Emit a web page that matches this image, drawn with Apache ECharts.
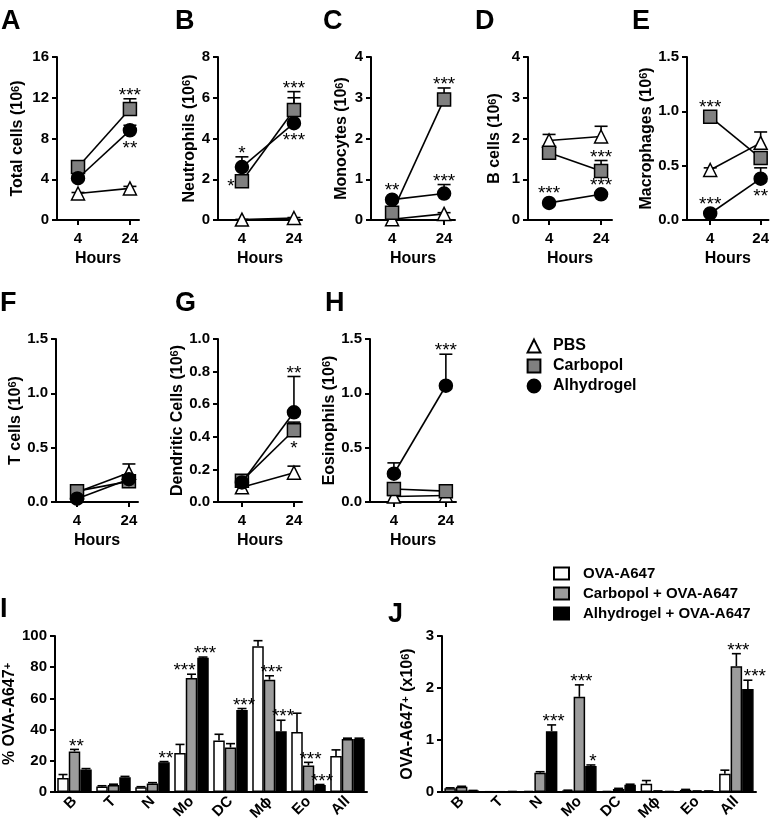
<!DOCTYPE html>
<html><head><meta charset="utf-8">
<script src="https://cdn.jsdelivr.net/npm/echarts@6/dist/echarts.min.js"></script>
<style>html,body{margin:0;padding:0;background:#fff}#c{width:772px;height:831px}</style>
</head><body><div id="c"></div>
<script>
const FONT = '"Liberation Sans", Arial, Helvetica, sans-serif';
const hours = [4, 24];
const lineGroups = ['PBS', 'Carbopol', 'Alhydrogel'];

// A Total cells
const totalPBS = [2.6, 3.1], totalPBSErr = [0.1, 0.2];
const totalCarb = [5.2, 10.9], totalCarbErr = [0.3, 1.0];
const totalAlhy = [4.1, 8.8], totalAlhyErr = [0.2, 0.5];
const totalStars = [{h: 24, g: 1, t: '***', p: 'err'}, {h: 24, g: 2, t: '**', p: 'below'}];
// B Neutrophils
const neutPBS = [0.02, 0.1], neutPBSErr = [0.01, 0.02];
const neutCarb = [1.9, 5.4], neutCarbErr = [0.2, 0.9];
const neutAlhy = [2.6, 4.75], neutAlhyErr = [0.5, 1.25];
const neutStars = [{h: 4, g: 2, t: '*', p: 'err'}, {h: 4, g: 1, t: '*', p: 'left'},
                   {h: 24, g: 1, t: '***', p: 'err'}, {h: 24, g: 2, t: '***', p: 'below'}];
// C Monocytes
const monoPBS = [0.02, 0.15], monoPBSErr = [0.01, 0.03];
const monoCarb = [0.18, 2.96], monoCarbErr = [0.05, 0.28];
const monoAlhy = [0.5, 0.65], monoAlhyErr = [0.03, 0.22];
const monoStars = [{h: 4, g: 2, t: '**', p: 'mark'}, {h: 24, g: 1, t: '***', p: 'err'}, {h: 24, g: 2, t: '***', p: 'err'}];
// D B cells
const bcellPBS = [1.95, 2.05], bcellPBSErr = [0.15, 0.25];
const bcellCarb = [1.65, 1.2], bcellCarbErr = [0.1, 0.26];
const bcellAlhy = [0.42, 0.63], bcellAlhyErr = [0.03, 0.03];
const bcellStars = [{h: 24, g: 1, t: '***', p: 'err'}, {h: 4, g: 2, t: '***', p: 'mark'}, {h: 24, g: 2, t: '***', p: 'mark'}];
// E Macrophages
const macPBS = [0.46, 0.71], macPBSErr = [0.02, 0.1];
const macCarb = [0.95, 0.57], macCarbErr = [0.03, 0.05];
const macAlhy = [0.06, 0.38], macAlhyErr = [0.01, 0.1];
const macStars = [{h: 4, g: 1, t: '***', p: 'mark'}, {h: 4, g: 2, t: '***', p: 'mark'}, {h: 24, g: 2, t: '**', p: 'below'}];
// F T cells
const tcellPBS = [0.09, 0.27], tcellPBSErr = [0.01, 0.08];
const tcellCarb = [0.1, 0.19], tcellCarbErr = [0.01, 0.03];
const tcellAlhy = [0.03, 0.21], tcellAlhyErr = [0.01, 0.03];
const tcellStars = [];
// G Dendritic cells
const dcPBS = [0.09, 0.18], dcPBSErr = [0.01, 0.04];
const dcCarb = [0.13, 0.44], dcCarbErr = [0.01, 0.05];
const dcAlhy = [0.12, 0.55], dcAlhyErr = [0.01, 0.22];
const dcStars = [{h: 24, g: 2, t: '**', p: 'err'}, {h: 24, g: 1, t: '*', p: 'below'}];
// H Eosinophils
const eosPBS = [0.05, 0.06], eosPBSErr = [0.01, 0.01];
const eosCarb = [0.12, 0.1], eosCarbErr = [0.01, 0.01];
const eosAlhy = [0.26, 1.07], eosAlhyErr = [0.1, 0.29];
const eosStars = [{h: 24, g: 2, t: '***', p: 'err'}];

// Bar panels
const cellTypes = ['B', 'T', 'N', 'Mo', 'DC', 'M\u03D5', 'Eo', 'All'];
const barGroups = ['OVA-A647', 'Carbopol + OVA-A647', 'Alhydrogel + OVA-A647'];
// I  % OVA-A647+
const pctOva = [9, 3.5, 3, 25, 33, 93.5, 38.5, 23], pctOvaErr = [2.2, 0.5, 0.4, 5.5, 4, 3.5, 12, 4];
const pctCarb = [26, 4.5, 5.5, 73, 28.5, 72, 17, 34], pctCarbErr = [1.3, 0.5, 0.5, 2.5, 2.5, 2.5, 2, 0.5];
const pctAlhy = [14.5, 9.5, 19, 86, 52.5, 39, 4.5, 34], pctAlhyErr = [0.5, 0.5, 0.5, 0.5, 1, 7, 0.3, 0.5];
const pctStars = [{c: 0, b: 1, t: '**'}, {c: 2, b: 2, t: '**'}, {c: 3, b: 1, t: '***'}, {c: 3, b: 2, t: '***'},
                  {c: 4, b: 2, t: '***'}, {c: 5, b: 1, t: '***'}, {c: 5, b: 2, t: '***'}, {c: 6, b: 1, t: '***'}, {c: 6, b: 2, t: '***'}];
// J  OVA-A647+ (x10^6)
const numOva = [0.07, 0.005, 0.01, 0.03, 0.01, 0.16, 0.04, 0.35], numOvaErr = [0.01, 0, 0, 0.005, 0, 0.06, 0.01, 0.07];
const numCarb = [0.1, 0.005, 0.37, 1.83, 0.06, 0.02, 0.02, 2.42], numCarbErr = [0.01, 0, 0.02, 0.23, 0.01, 0, 0, 0.24];
const numAlhy = [0.03, 0.01, 1.17, 0.5, 0.14, 0.01, 0.02, 1.98], numAlhyErr = [0, 0, 0.12, 0.02, 0.01, 0, 0, 0.17];
const numStars = [{c: 2, b: 2, t: '***'}, {c: 3, b: 1, t: '***'}, {c: 3, b: 2, t: '*'}, {c: 7, b: 1, t: '***'}, {c: 7, b: 2, t: '***'}];

// ---------- layout / style ----------
const lineStyleDefs = [
  {symbol: 'triangle', size: 13, fill: '#ffffff'},
  {symbol: 'rect', size: 13, fill: '#808080'},
  {symbol: 'circle', size: 13, fill: '#000000'}
];
const barFills = ['#ffffff', '#9c9c9c', '#000000'];
// small horizontal nudges (px) for star labels that avoid neighbouring bars
const starNudge = {'I:3:1': -9, 'J:7:2': 5};

const linePanels = [
  {L: 'A', left: 57, top: 57, width: 82, xr: [-4.1, 27.5], max: 16, iv: 4, dec: 0, name: 'Total cells (10{s|6})', gap: 31,
   d: [[totalPBS, totalPBSErr], [totalCarb, totalCarbErr], [totalAlhy, totalAlhyErr]], stars: totalStars},
  {L: 'B', left: 218, top: 57, width: 84, xr: [-5.2, 27.1], max: 8, iv: 2, dec: 0, name: 'Neutrophils (10{s|6})', gap: 19,
   d: [[neutPBS, neutPBSErr], [neutCarb, neutCarbErr], [neutAlhy, neutAlhyErr]], stars: neutStars},
  {L: 'C', left: 371, top: 57, width: 84, xr: [-4.1, 28.2], max: 4, iv: 1, dec: 0, name: 'Monocytes (10{s|6})', gap: 21,
   d: [[monoPBS, monoPBSErr], [monoCarb, monoCarbErr], [monoAlhy, monoAlhyErr]], stars: monoStars},
  {L: 'D', left: 528, top: 57, width: 84, xr: [-4.1, 28.2], max: 4, iv: 1, dec: 0, name: 'B cells (10{s|6})', gap: 25,
   d: [[bcellPBS, bcellPBSErr], [bcellCarb, bcellCarbErr], [bcellAlhy, bcellAlhyErr]], stars: bcellStars},
  {L: 'E', left: 687, top: 57, width: 84, xr: [-5.2, 27.1], max: 1.5, iv: 0.5, dec: 1, name: 'Macrophages (10{s|6})', gap: 29,
   d: [[macPBS, macPBSErr], [macCarb, macCarbErr], [macAlhy, macAlhyErr]], stars: macStars},
  {L: 'F', left: 56, top: 339, width: 82, xr: [-4.1, 27.5], max: 1.5, iv: 0.5, dec: 1, name: 'T cells (10{s|6})', gap: 27,
   d: [[tcellPBS, tcellPBSErr], [tcellCarb, tcellCarbErr], [tcellAlhy, tcellAlhyErr]], stars: tcellStars},
  {L: 'G', left: 218, top: 339, width: 84, xr: [-5.2, 27.1], max: 1.0, iv: 0.2, dec: 1, name: 'Dendritic Cells (10{s|6})', gap: 27,
   d: [[dcPBS, dcPBSErr], [dcCarb, dcCarbErr], [dcAlhy, dcAlhyErr]], stars: dcStars},
  {L: 'H', left: 370, top: 339, width: 86, xr: [-5.2, 27.9], max: 1.5, iv: 0.5, dec: 1, name: 'Eosinophils (10{s|6})', gap: 27,
   d: [[eosPBS, eosPBSErr], [eosCarb, eosCarbErr], [eosAlhy, eosAlhyErr]], stars: eosStars}
];
const barPanels = [
  {L: 'I', left: 55, top: 636, width: 312, height: 156, max: 100, iv: 20, name: '% OVA-A647{s|+}', gap: 34,
   d: [[pctOva, pctOvaErr], [pctCarb, pctCarbErr], [pctAlhy, pctAlhyErr]], stars: pctStars},
  {L: 'J', left: 442, top: 636, width: 314, height: 156, max: 3, iv: 1, name: 'OVA-A647{s|+} (x10{s|6})', gap: 26,
   d: [[numOva, numOvaErr], [numCarb, numCarbErr], [numAlhy, numAlhyErr]], stars: numStars}
];
const letterPos = {A: [1, 8], B: [175, 8], C: [323, 8], D: [475, 8], E: [632, 8], F: [0, 290], G: [175, 290], H: [325, 290], I: [0, 596], J: [388, 601]};

const txt = (size, weight) => ({fontFamily: FONT, fontSize: size, fontWeight: weight || 'bold', color: '#000'});
const nameStyle = Object.assign(txt(16), {rich: {s: {fontFamily: FONT, fontSize: 11, fontWeight: 'bold', color: '#000', verticalAlign: 'top', lineHeight: 12}}});
const axisLine = {show: true, onZero: false, lineStyle: {color: '#000', width: 2}};
const axisTick = {show: true, length: 5, lineStyle: {color: '#000', width: 2}};

const grid = [], xAxis = [], yAxis = [], series = [];
const BAR_W = 11.5;
const STAR_FONT = '19px ' + FONT;

function errRender(capW, dx) {
  return function (params, api) {
    const p0 = api.coord([api.value(0), api.value(1)]);
    const p1 = api.coord([api.value(0), api.value(2)]);
    const cx = p0[0] + dx;
    const st = {stroke: '#000', lineWidth: 1.6};
    return {type: 'group', children: [
      {type: 'line', shape: {x1: cx, y1: p0[1], x2: cx, y2: p1[1]}, style: st},
      {type: 'line', shape: {x1: cx - capW / 2, y1: p1[1], x2: cx + capW / 2, y2: p1[1]}, style: st}
    ]};
  };
}
function starRender(list, offsetFn) {
  return function (params, api) {
    const a = list[params.dataIndex];
    const p = api.coord([api.value(0), api.value(1)]);
    const o = offsetFn(a);
    return {type: 'text', x: p[0] + o[0], y: p[1] + o[1],
      style: {text: a.t, fill: '#000', font: STAR_FONT, align: 'center', verticalAlign: 'middle'}};
  };
}

linePanels.forEach((P, i) => {
  grid.push({left: P.left, top: P.top, width: P.width, height: 163});
  xAxis.push({gridIndex: i, type: 'value', min: P.xr[0], max: P.xr[1],
    axisLine: axisLine, axisTick: Object.assign({customValues: hours}, axisTick),
    axisLabel: Object.assign({customValues: hours, margin: 11}, txt(15)),
    splitLine: {show: false}, name: 'Hours', nameLocation: 'middle', nameGap: 31, nameTextStyle: txt(16)});
  yAxis.push({gridIndex: i, type: 'value', min: 0, max: P.max, interval: P.iv,
    axisLine: axisLine, axisTick: axisTick,
    axisLabel: Object.assign({margin: 8, formatter: v => v.toFixed(P.dec)}, txt(15)),
    splitLine: {show: false}, name: P.name, nameLocation: 'middle', nameRotate: 90, nameGap: P.gap, nameTextStyle: nameStyle});
  P.d.forEach((pair, g) => {
    const [vals, errs] = pair;
    series.push({type: 'custom', xAxisIndex: i, yAxisIndex: i, z: 2, silent: true,
      encode: {x: 0, y: 1},
      data: hours.map((h, k) => [h, vals[k], vals[k] + errs[k]]),
      renderItem: errRender(13, 0)});
  });
  P.d.forEach((pair, g) => {
    const S = lineStyleDefs[g];
    series.push({type: 'line', name: lineGroups[g], xAxisIndex: i, yAxisIndex: i, z: 3 + g,
      data: hours.map((h, k) => [h, pair[0][k]]),
      symbol: S.symbol, symbolSize: S.size, showSymbol: true,
      itemStyle: {color: S.fill, borderColor: '#000', borderWidth: 1.5},
      lineStyle: {color: '#000', width: 1.6}});
  });
  if (P.stars.length) {
    const anchor = a => {
      const k = hours.indexOf(a.h), pr = P.d[a.g];
      return a.p === 'err' ? pr[0][k] + pr[1][k] : pr[0][k];
    };
    series.push({type: 'custom', xAxisIndex: i, yAxisIndex: i, z: 10, silent: true,
      encode: {x: 0, y: 1},
      data: P.stars.map(a => [a.h, anchor(a)]),
      renderItem: starRender(P.stars, a => a.p === 'err' ? [0, -3] : a.p === 'mark' ? [0, -9] : a.p === 'below' ? [0, 18] : [-11, 5])});
  }
});

barPanels.forEach((P, j) => {
  const i = linePanels.length + j;
  grid.push({left: P.left, top: P.top, width: P.width, height: P.height});
  xAxis.push({gridIndex: i, type: 'category', data: cellTypes,
    axisLine: axisLine, axisTick: {show: false},
    axisLabel: Object.assign({interval: 0, rotate: 45, margin: 7}, txt(15)), splitLine: {show: false}});
  yAxis.push({gridIndex: i, type: 'value', min: 0, max: P.max, interval: P.iv,
    axisLine: axisLine, axisTick: axisTick,
    axisLabel: Object.assign({margin: 8}, txt(15)),
    splitLine: {show: false}, name: P.name, nameLocation: 'middle', nameRotate: 90, nameGap: P.gap, nameTextStyle: nameStyle});
  P.d.forEach((pair, b) => {
    series.push({type: 'bar', name: barGroups[b], xAxisIndex: i, yAxisIndex: i, z: 2,
      data: pair[0], barWidth: BAR_W, barGap: '0%',
      itemStyle: {color: barFills[b], borderColor: '#000', borderWidth: 1.5}});
  });
  P.d.forEach((pair, b) => {
    series.push({type: 'custom', xAxisIndex: i, yAxisIndex: i, z: 1, silent: true,
      encode: {x: 0, y: 1},
      data: pair[0].map((v, k) => [k, v, v + pair[1][k]]),
      renderItem: errRender(9, (b - 1) * BAR_W)});
  });
  series.push({type: 'custom', xAxisIndex: i, yAxisIndex: i, z: 10, silent: true,
    encode: {x: 0, y: 1},
    data: P.stars.map(a => [a.c, P.d[a.b][0][a.c] + P.d[a.b][1][a.c]]),
    renderItem: starRender(P.stars, a => [(a.b - 1) * BAR_W + 2 + (starNudge[P.L + ':' + a.c + ':' + a.b] || 0), -3])});
});

const title = Object.keys(letterPos).map(k => ({text: k, left: letterPos[k][0], top: letterPos[k][1], padding: 0,
  textStyle: {fontFamily: FONT, fontSize: 27, fontWeight: 'bold', color: '#000'}}));

const legend = [
  {data: lineGroups, orient: 'vertical', left: 522, top: 338, padding: 0, itemWidth: 22, itemHeight: 16, itemGap: 4,
   selectedMode: false, lineStyle: {opacity: 0}, textStyle: Object.assign({padding: [0, 0, 0, 3]}, txt(16))},
  {data: barGroups.map(n => ({name: n, icon: 'rect'})), orient: 'vertical', left: 553, top: 566, padding: 0,
   itemWidth: 15, itemHeight: 12, itemGap: 5,
   selectedMode: false, textStyle: Object.assign({padding: [0, 0, 0, 9]}, txt(15))}
];

const chart = echarts.init(document.getElementById('c'), null, {renderer: 'canvas'});
chart.setOption({animation: false, backgroundColor: '#fff', title, legend, grid, xAxis, yAxis, series});
</script>
</body></html>
